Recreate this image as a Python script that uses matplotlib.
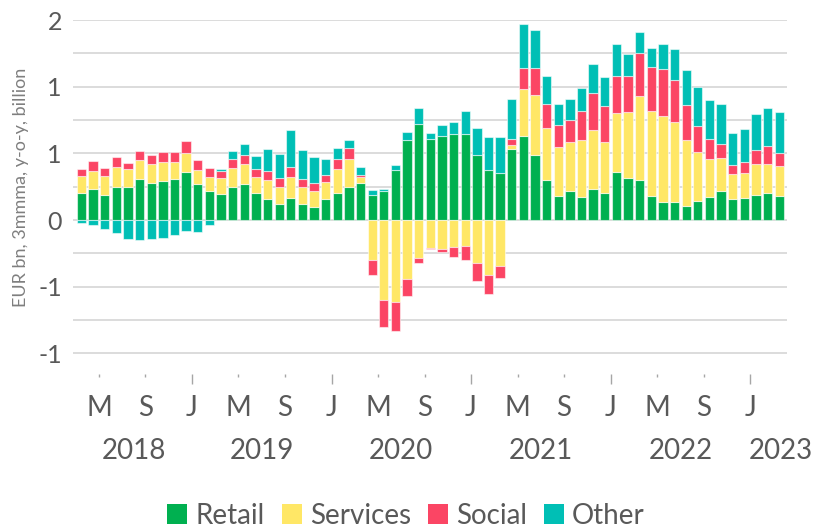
import pandas as pd
import matplotlib as mpl
mpl.use('Agg')
import matplotlib.pyplot as plt
from matplotlib.patches import Patch
from matplotlib.transforms import blended_transform_factory

plt.rcParams['font.family'] = ['Lato', 'DejaVu Sans']

# monthly, Mar 2018 .. Mar 2023
months = pd.date_range("2018-03-01", "2023-03-01", freq="MS")

retail = [0.20, 0.23, 0.19, 0.25, 0.25, 0.31, 0.28, 0.29, 0.305, 0.36,
          0.27, 0.215, 0.195, 0.25, 0.2725, 0.20, 0.16, 0.12, 0.1675, 0.1225,
          0.10, 0.155, 0.20, 0.25, 0.2775, 0.185, 0.215, 0.3775, 0.6025, 0.7175,
          0.61, 0.6325, 0.645, 0.645, 0.485, 0.3725, 0.35, 0.5325, 0.6325, 0.485,
          0.30, 0.1775, 0.215, 0.1725, 0.2325, 0.205, 0.3625, 0.3125, 0.30, 0.1775,
          0.1375, 0.1375, 0.105, 0.1425, 0.175, 0.2175, 0.16, 0.1675, 0.1875, 0.20,
          0.18]
services = [0.13, 0.14, 0.14, 0.15, 0.13, 0.14, 0.14, 0.145, 0.13, 0.14,
            0.105, 0.105, 0.12, 0.14, 0.1475, 0.12, 0.14, 0.13, 0.1575, 0.1275,
            0.12, 0.1275, 0.18, 0.21, 0.045, -0.30, -0.60, -0.6125, -0.4425, -0.2875,
            -0.2075, -0.22, -0.205, -0.1975, -0.3225, -0.4125, -0.345, 0.0325, 0.35, 0.45,
            0.39, 0.37, 0.3675, 0.4275, 0.4425, 0.38, 0.44, 0.4975, 0.6325, 0.6375,
            0.645, 0.5975, 0.4925, 0.37, 0.2825, 0.245, 0.185, 0.185, 0.23, 0.2225,
            0.2275]
social = [0.05, 0.07, 0.06, 0.07, 0.05, 0.065, 0.065, 0.075, 0.075, 0.095,
          0.075, 0.07, 0.055, 0.065, 0.07, 0.065, 0.065, 0.0625, 0.075, 0.0575,
          0.055, 0.055, 0.075, 0.0825, 0.0125, -0.1125, -0.205, -0.22, -0.125, -0.0325,
          -0.01, -0.0225, -0.0725, -0.105, -0.1325, -0.145, -0.09, 0.04, 0.1575, 0.2075,
          0.1775, 0.1675, 0.165, 0.215, 0.28, 0.2725, 0.28, 0.2675, 0.3225, 0.33,
          0.3475, 0.3175, 0.2625, 0.195, 0.1475, 0.11, 0.065, 0.085, 0.11, 0.1325,
          0.0975]
other = [-0.02, -0.04, -0.07, -0.095, -0.14, -0.15, -0.145, -0.135, -0.115, -0.08,
         -0.09, -0.04, 0.0125, 0.0625, 0.08, 0.095, 0.17, 0.1825, 0.275, 0.2175,
         0.1975, 0.12, 0.085, 0.055, 0.065, 0.0375, 0.0175, 0.0325, 0.055, 0.125,
         0.04, 0.08, 0.09, 0.175, 0.2025, 0.25, 0.27, 0.3025, 0.33, 0.2825,
         0.21, 0.1525, 0.16, 0.1725, 0.215, 0.2125, 0.235, 0.165, 0.1575, 0.145,
         0.1875, 0.23, 0.265, 0.29, 0.2975, 0.30, 0.2425, 0.2425, 0.2675, 0.285,
         0.3025]

series_names = ["Retail", "Services", "Social", "Other"]
colors = ["#00B050", "#FFE766", "#FB4564", "#00BFB5"]
month_letters = {1: "J", 5: "M", 9: "S"}
ytick_vals = [-1.0, -0.5, 0.0, 0.5, 1.0, 1.5]
ytick_labels = ["-1", "-1", "0", "1", "1", "2"]
text_col = "#595959"

fig = plt.figure(figsize=(8.15, 5.29), dpi=100)
ax = fig.add_axes([73 / 815, 1 - 374 / 529, 714 / 815, 354 / 529])

x = list(range(len(months)))
pos_base = [0.0] * len(x)
neg_base = [0.0] * len(x)
for name, vals, col in zip(series_names, [retail, services, social, other], colors):
    bottoms = []
    for i, v in enumerate(vals):
        if v >= 0:
            bottoms.append(pos_base[i])
            pos_base[i] += v
        else:
            bottoms.append(neg_base[i])
            neg_base[i] += v
    ax.bar(x, vals, bottom=bottoms, width=0.8, color=col,
           edgecolor=(1, 1, 1, 0.55), linewidth=0.8, zorder=3, label=name)

ax.set_xlim(-0.73, len(x) - 0.33)
ax.set_ylim(-1.155, 1.5)

# y axis
ax.set_yticks(ytick_vals)
ax.set_yticklabels(ytick_labels)
ax.set_yticks([v + 0.25 for v in ytick_vals[:-1]], minor=True)
ax.tick_params(axis='y', which='both', length=0, pad=8, labelsize=18, labelcolor=text_col)
ax.grid(axis='y', which='both', color='#D9D9D9', linewidth=1.3, zorder=0)
for s in ax.spines.values():
    s.set_visible(False)

# x axis: ticks at month boundaries for May / Sep / Jan
tpos, tlab, is_jan = [], [], []
for i, m in enumerate(months):
    if m.month in month_letters and i > 0:
        tpos.append(i - 0.5)
        tlab.append(month_letters[m.month])
        is_jan.append(m.month == 1)
ax.set_xticks(tpos)
ax.set_xticklabels(tlab)
ax.tick_params(axis='x', direction='out', length=2.5, width=1, color='#A6A6A6',
               pad=12.5, labelsize=20, labelcolor=text_col)
for t, j in zip(ax.xaxis.get_major_ticks(), is_jan):
    if j:
        t.tick1line.set_markersize(7)

# year labels
trans = blended_transform_factory(ax.transData, ax.transAxes)
years = sorted(set(m.year for m in months))
for k, yr in enumerate(years):
    idx = [i for i, m in enumerate(months) if m.year == yr]
    xc = (idx[0] + idx[-1]) / 2
    if k == len(years) - 1:
        xc = idx[-1] + 0.15
    ax.text(xc, -0.2175, str(yr), transform=trans, ha='center', va='center',
            fontsize=20, color=text_col)

fig.text(21 / 815, 1 - 187 / 529, "EUR bn, 3mmma, y-o-y, billion", rotation=90,
         ha='center', va='center', fontsize=13, color='#7F7F7F')

handles = [Patch(facecolor=c, edgecolor='none') for c in colors]
fig.legend(handles, series_names, loc='center', bbox_to_anchor=(406 / 815, 1 - 516 / 529),
           ncol=4, frameon=False, fontsize=20, handlelength=0.72, handleheight=0.72,
           handletextpad=0.3, columnspacing=0.6, labelcolor=text_col,
           borderpad=0, borderaxespad=0)

fig.savefig("out.png", dpi=100, facecolor='white')
